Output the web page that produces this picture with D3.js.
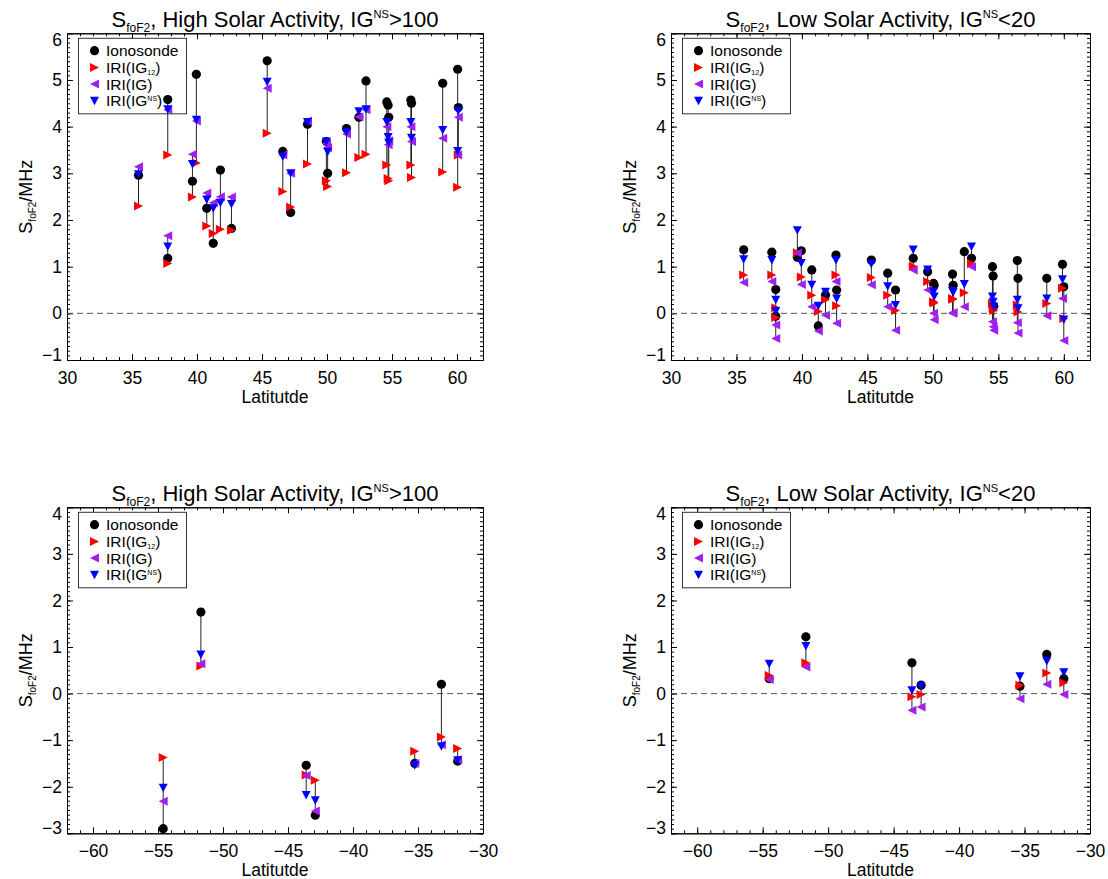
<!DOCTYPE html>
<html>
<head>
<meta charset="utf-8">
<script src="https://cdn.jsdelivr.net/npm/d3@7"></script>
<style>
  body { margin: 0; background: #fff; }
  svg text { font-family: "Liberation Sans", Arial, Helvetica, sans-serif; fill: #000; }
</style>
</head>
<body>
<svg width="1108" height="879"></svg>
<script>
// ---- data (S_foF2 in MHz) ----

// high solar activity, northern hemisphere stations
const highNLat = [35.5, 37.75, 37.75, 39.95, 39.65, 40.75, 41.25, 41.8, 42.65, 45.4, 46.6, 47.2, 48.5, 49.95, 50.05, 51.5, 52.45, 53.0, 54.6, 54.7, 54.75, 56.45, 56.5, 58.9, 60.05, 60.1];
const highNIono = [2.96, 4.58, 1.18, 5.12, 2.83, 2.25, 1.5, 3.07, 1.82, 5.41, 3.47, 2.16, 4.05, 3.68, 3.0, 3.96, 4.2, 4.98, 4.53, 4.46, 4.2, 4.57, 4.5, 4.93, 5.23, 4.41];
const highNIG12 = [2.3, 3.39, 1.07, 3.22, 2.49, 1.87, 1.71, 1.8, 1.78, 3.86, 2.61, 2.28, 3.2, 2.84, 2.72, 3.01, 3.34, 3.41, 3.18, 2.89, 2.84, 3.18, 2.91, 3.03, 2.7, 3.39];
const highNIG = [3.14, 4.36, 1.66, 4.12, 3.41, 2.58, 2.37, 2.5, 2.49, 4.82, 3.39, 3.0, 4.12, 3.64, 3.55, 3.84, 4.21, 4.36, 4.0, 3.61, 3.7, 4.0, 3.68, 3.75, 3.39, 4.2];
const highNIGNS = [2.98, 4.37, 1.43, 4.15, 3.2, 2.44, 2.25, 2.37, 2.34, 4.96, 3.36, 3.0, 4.1, 3.68, 3.46, 3.89, 4.33, 4.37, 4.1, 3.78, 3.66, 4.1, 3.76, 3.93, 3.48, 4.34];

// low solar activity, northern hemisphere stations
const lowNLat = [35.55, 37.7, 38.0, 38.0, 39.65, 39.95, 40.75, 41.25, 41.8, 42.6, 42.65, 45.3, 46.55, 47.15, 48.5, 49.6, 50.05, 50.1, 51.5, 51.55, 52.4, 52.95, 54.55, 54.6, 54.65, 56.45, 56.5, 58.7, 59.9, 60.0];
const lowNIono = [1.36, 1.31, 0.51, -0.06, 1.2, 1.34, 0.93, -0.27, 0.39, 1.25, 0.5, 1.14, 0.86, 0.5, 1.18, 0.89, 0.64, 0.6, 0.84, 0.6, 1.32, 1.18, 1.0, 0.8, 0.15, 1.13, 0.75, 0.75, 1.05, 0.57];
const lowNIG12 = [0.82, 0.82, 0.12, -0.09, 1.3, 0.78, 0.39, 0.04, 0.29, 0.82, 0.16, 0.77, 0.39, 0.06, 1.01, 0.68, 0.25, 0.22, 0.32, 0.3, 0.44, 1.07, 0.21, 0.11, 0.06, 0.18, 0.03, 0.21, 0.54, -0.11];
const lowNIG = [0.66, 0.68, -0.25, -0.54, 1.29, 0.62, 0.14, -0.38, -0.04, 0.68, -0.21, 0.61, 0.14, -0.36, 0.93, 0.5, 0.0, -0.14, 0.0, 0.02, 0.14, 1.0, -0.18, -0.29, -0.36, -0.2, -0.42, -0.05, 0.32, -0.58];
const lowNIGNS = [1.16, 1.14, 0.29, 0.05, 1.78, 1.08, 0.61, 0.16, 0.46, 1.14, 0.32, 1.06, 0.58, 0.18, 1.37, 0.94, 0.46, 0.36, 0.48, 0.45, 0.63, 1.43, 0.36, 0.25, 0.14, 0.29, 0.11, 0.32, 0.73, -0.13];

// high solar activity, southern hemisphere stations
const highSLat = [-54.6, -51.7, -43.6, -42.9, -35.25, -33.2, -31.95];
const highSIono = [-2.9, 1.75, -1.54, -2.61, -1.5, 0.2, -1.45];
const highSIG12 = [-1.37, 0.59, -1.75, -1.86, -1.24, -0.93, -1.18];
const highSIG = [-2.31, 0.64, -1.76, -2.52, -1.5, -1.1, -1.42];
const highSIGNS = [-2.02, 0.84, -2.18, -2.29, -1.54, -1.13, -1.43];

// low solar activity, southern hemisphere stations
const lowSLat = [-54.5, -51.7, -43.6, -42.9, -35.35, -33.3, -32.0];
const lowSIono = [0.32, 1.22, 0.66, 0.18, 0.16, 0.84, 0.32];
const lowSIG12 = [0.39, 0.66, -0.07, -0.02, 0.18, 0.44, 0.23];
const lowSIG = [0.3, 0.57, -0.36, -0.29, -0.11, 0.2, -0.02];
const lowSIGNS = [0.64, 1.02, 0.07, 0.16, 0.37, 0.7, 0.46];

// axis ticks
const xTicksNorth = [30, 35, 40, 45, 50, 55, 60];
const xTicksSouth = [-60, -55, -50, -45, -40, -35, -30];
const yTicksNorth = [-1, 0, 1, 2, 3, 4, 5, 6];
const yTicksSouth = [-3, -2, -1, 0, 1, 2, 3, 4];

const svg = d3.select("svg");
const fontTick = 17.5;

const series = [
  { key: "iono", color: "#000000", shape: "circle" },
  { key: "ig12", color: "#ff0000", shape: "right" },
  { key: "ig", color: "#a020f0", shape: "left" },
  { key: "igns", color: "#0000ff", shape: "down" },
];

const shapes = {
  right: "M-4.5,-4.5L4.5,0L-4.5,4.5Z",
  left: "M4.5,-4.5L-4.5,0L4.5,4.5Z",
  down: "M-4.5,-4L4.5,-4L0,4.5Z",
};

const addMarker = (sel, shape, color) => {
  if (shape == "circle") {
    sel.append("circle").attr("r", 4.6).attr("fill", color);
  } else {
    sel.append("path").attr("d", shapes[shape]).attr("fill", color);
  }
};

const makeRows = (lat, iono, ig12, ig, igns) =>
  lat.map((d, i) => ({
    lat: d,
    iono: iono[i],
    ig12: ig12[i],
    ig: ig[i],
    igns: igns[i],
  }));

const drawPanel = (p) => {
  const xScale = d3.scaleLinear().domain(p.xDomain).range([p.left, p.right]);
  const yScale = d3.scaleLinear().domain(p.yDomain).range([p.bottom, p.top]);
  const fmt = d3.format("d");

  const g = svg.append("g");

  const xMinor = d3.range(p.xDomain[0], p.xDomain[1] + 0.01, 1);
  const yMinor = d3
    .range(Math.round(p.yDomain[0] * 10), Math.round(p.yDomain[1] * 10) + 1)
    .map((v) => v / 10);

  // minor ticks on all four sides
  g.append("g")
    .attr("transform", `translate(0, ${p.bottom})`)
    .call(d3.axisBottom(xScale).tickValues(xMinor).tickSize(-3).tickSizeOuter(0).tickFormat(""));
  g.append("g")
    .attr("transform", `translate(0, ${p.top})`)
    .call(d3.axisTop(xScale).tickValues(xMinor).tickSize(-3).tickSizeOuter(0).tickFormat(""));
  g.append("g")
    .attr("transform", `translate(${p.left}, 0)`)
    .call(d3.axisLeft(yScale).tickValues(yMinor).tickSize(-3).tickSizeOuter(0).tickFormat(""));
  g.append("g")
    .attr("transform", `translate(${p.right}, 0)`)
    .call(d3.axisRight(yScale).tickValues(yMinor).tickSize(-3).tickSizeOuter(0).tickFormat(""));

  // major ticks
  const xAxisG = g
    .append("g")
    .attr("transform", `translate(0, ${p.bottom})`)
    .call(d3.axisBottom(xScale).tickValues(p.xTicks).tickFormat(fmt).tickSize(-6).tickSizeOuter(0).tickPadding(11.5));
  g.append("g")
    .attr("transform", `translate(0, ${p.top})`)
    .call(d3.axisTop(xScale).tickValues(p.xTicks).tickSize(-6).tickSizeOuter(0).tickFormat(""));
  const yAxisG = g
    .append("g")
    .attr("transform", `translate(${p.left}, 0)`)
    .call(d3.axisLeft(yScale).tickValues(p.yTicks).tickFormat(fmt).tickSize(-6).tickSizeOuter(0).tickPadding(5));
  g.append("g")
    .attr("transform", `translate(${p.right}, 0)`)
    .call(d3.axisRight(yScale).tickValues(p.yTicks).tickSize(-6).tickSizeOuter(0).tickFormat(""));

  g.selectAll(".domain").attr("stroke", "#000").attr("stroke-width", 1);
  g.selectAll(".tick line").attr("stroke", "#000");
  xAxisG.selectAll("text").attr("font-size", fontTick).attr("font-family", null);
  yAxisG.selectAll("text").attr("font-size", fontTick).attr("font-family", null);

  // end labels on y axis sit inside the frame
  const yMin = p.yTicks[0];
  const yMax = p.yTicks[p.yTicks.length - 1];
  yAxisG.selectAll(".tick").each(function (d) {
    const t = d3.select(this).select("text");
    if (d == yMax) t.attr("y", 7);
    if (d == yMin) t.attr("y", -5);
  });

  // x title
  g.append("text")
    .attr("x", (p.left + p.right) / 2)
    .attr("y", p.bottom + 43)
    .attr("text-anchor", "middle")
    .attr("font-size", 17.5)
    .text("Latitutde");

  // y title
  const yt = g
    .append("text")
    .attr("transform", `translate(${p.left - 35}, ${(p.top + p.bottom) / 2}) rotate(-90)`)
    .attr("text-anchor", "middle")
    .attr("font-size", 18);
  yt.append("tspan").text("S");
  yt.append("tspan").attr("font-size", 10).attr("dy", 4).text("foF2");
  yt.append("tspan").attr("dy", -4).text("/MHz");

  // title
  const tt = g
    .append("text")
    .attr("x", (p.left + p.right) / 2)
    .attr("y", p.top - 6.5)
    .attr("text-anchor", "middle")
    .attr("font-size", 22);
  tt.append("tspan").text("S");
  tt.append("tspan").attr("font-size", 12).attr("dy", 5).text("foF2");
  tt.append("tspan").attr("dy", -5).text(p.title);
  tt.append("tspan").attr("font-size", 11).attr("dy", -9).text("NS");
  tt.append("tspan").attr("dy", 9).text(p.limit);

  // legend (data marks are drawn over it, as in the original)
  const lg = g.append("g").attr("transform", `translate(${p.left + 11.5}, ${p.top + 5})`);
  lg.append("rect")
    .attr("width", 108)
    .attr("height", 75.5)
    .attr("fill", "#fff")
    .attr("stroke", "#333")
    .attr("stroke-width", 1);

  series.forEach((s, i) => {
    const row = lg.append("g").attr("transform", `translate(16, ${12.4 + i * 16.7})`);
    addMarker(row, s.shape, s.color);
    const lt = row.append("text").attr("x", 11.5).attr("dy", "0.36em").attr("font-size", 15.5);
    if (s.key == "iono") {
      lt.text("Ionosonde");
    } else if (s.key == "ig12") {
      lt.append("tspan").text("IRI(IG");
      lt.append("tspan").attr("font-size", 7).attr("dy", 2).text("12");
      lt.append("tspan").attr("dy", -2).text(")");
    } else if (s.key == "ig") {
      lt.text("IRI(IG)");
    } else {
      lt.append("tspan").text("IRI(IG");
      lt.append("tspan").attr("font-size", 7).attr("dy", -5).text("NS");
      lt.append("tspan").attr("dy", 5).text(")");
    }
  });

  // zero line
  g.append("line")
    .attr("x1", p.left)
    .attr("x2", p.right)
    .attr("y1", yScale(0))
    .attr("y2", yScale(0))
    .attr("stroke", "#555")
    .attr("stroke-dasharray", "6,4");

  // station spread lines
  g.selectAll(".spread")
    .data(p.data)
    .enter()
    .append("line")
    .attr("class", "spread")
    .attr("x1", (d) => xScale(d.lat))
    .attr("x2", (d) => xScale(d.lat))
    .attr("y1", (d) => yScale(Math.min(d.iono, d.ig12, d.ig, d.igns)))
    .attr("y2", (d) => yScale(Math.max(d.iono, d.ig12, d.ig, d.igns)))
    .attr("stroke", "#222")
    .attr("stroke-width", 1);

  // markers, one series at a time
  series.forEach((s) => {
    const m = g
      .selectAll(".m-" + s.key)
      .data(p.data)
      .enter()
      .append("g")
      .attr("class", "m-" + s.key)
      .attr("transform", (d) => `translate(${xScale(d.lat)}, ${yScale(d[s.key])})`);
    addMarker(m, s.shape, s.color);
  });
};

const panels = [
  {
    left: 67, right: 483, top: 33.3, bottom: 360,
    xDomain: [30, 62], yDomain: [-1, 6], xTicks: xTicksNorth, yTicks: yTicksNorth,
    title: ", High Solar Activity, IG", limit: ">100",
    data: makeRows(highNLat, highNIono, highNIG12, highNIG, highNIGNS),
  },
  {
    left: 671, right: 1090, top: 33.3, bottom: 360,
    xDomain: [30, 62], yDomain: [-1, 6], xTicks: xTicksNorth, yTicks: yTicksNorth,
    title: ", Low Solar Activity, IG", limit: "<20",
    data: makeRows(lowNLat, lowNIono, lowNIG12, lowNIG, lowNIGNS),
  },
  {
    left: 67, right: 483, top: 507.3, bottom: 833.3,
    xDomain: [-62, -30], yDomain: [-3, 4], xTicks: xTicksSouth, yTicks: yTicksSouth,
    title: ", High Solar Activity, IG", limit: ">100",
    data: makeRows(highSLat, highSIono, highSIG12, highSIG, highSIGNS),
  },
  {
    left: 671, right: 1090, top: 507.3, bottom: 833.3,
    xDomain: [-62, -30], yDomain: [-3, 4], xTicks: xTicksSouth, yTicks: yTicksSouth,
    title: ", Low Solar Activity, IG", limit: "<20",
    data: makeRows(lowSLat, lowSIono, lowSIG12, lowSIG, lowSIGNS),
  },
];

panels.forEach(drawPanel);
</script>
</body>
</html>
